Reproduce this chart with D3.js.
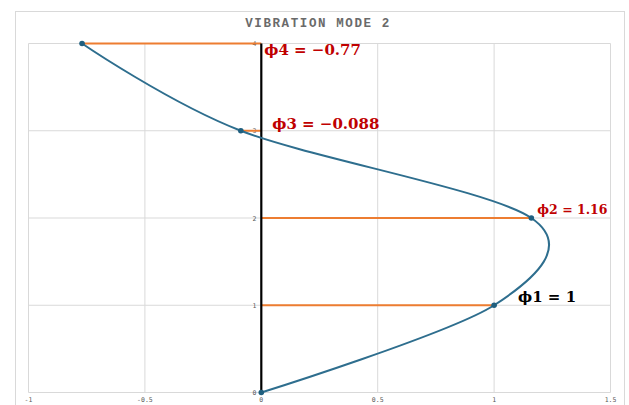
<!DOCTYPE html>
<html><head><meta charset="utf-8">
<script src="https://cdn.jsdelivr.net/npm/d3@7"></script>
<style>body{margin:0;background:#fff}</style>
</head><body>
<script>
const modeShape = [0, 1, 1.16, -0.088, -0.77];
const levels = [0, 1, 2, 3, 4];
const xTicks = [-1, -0.5, 0, 0.5, 1, 1.5];
const xTickLabels = ["-1", "-0.5", "0", "0.5", "1", "1.5"];
const yTicks = [0, 1, 2, 3, 4];
const labels = [
  {lvl: 4, text: "ϕ4 = −0.77", color: "#c00000", size: 15, dx: 3, dy: 11},
  {lvl: 3, text: "ϕ3 = −0.088", color: "#c00000", size: 15, dx: 11, dy: -2},
  {lvl: 2, text: "ϕ2 = 1.16", color: "#c00000", size: 12.5, dx: 6, dy: -4},
  {lvl: 1, text: "ϕ1 = 1", color: "#000000", size: 15, dx: 24, dy: -3}
];
const title = "VIBRATION MODE 2";

const W = 629, H = 405;
const svg = d3.select("body").append("svg").attr("width", W).attr("height", H);
svg.append("rect").attr("x", 15.5).attr("y", 11.5).attr("width", 609).attr("height", 400)
  .attr("fill", "#fff").attr("stroke", "#d9d9d9");

const x = d3.scaleLinear().domain([-1, 1.5]).range([28.5, 610.5]);
const y = d3.scaleLinear().domain([0, 4]).range([392.5, 43.5]);

svg.append("g").selectAll("line").data(xTicks).join("line")
  .attr("x1", d => x(d)).attr("x2", d => x(d)).attr("y1", y(0)).attr("y2", y(4))
  .attr("stroke", "#d9d9d9");
svg.append("g").selectAll("line").data(yTicks).join("line")
  .attr("x1", x(-1)).attr("x2", x(1.5)).attr("y1", d => y(d)).attr("y2", d => y(d))
  .attr("stroke", "#d9d9d9");

svg.append("text").attr("x", 318).attr("y", 27).attr("text-anchor", "middle")
  .attr("font-family", "Liberation Mono, monospace").attr("font-size", 12.5)
  .attr("font-weight", "bold").attr("letter-spacing", 1.6).attr("fill", "#6a6a6a").text(title);

svg.append("g").selectAll("text").data(xTicks).join("text")
  .attr("x", d => x(d)).attr("y", 402).attr("text-anchor", "middle")
  .attr("font-family", "DejaVu Sans Mono, monospace").attr("font-size", 6.5).attr("fill", "#595959")
  .text((d, i) => xTickLabels[i]);
svg.append("g").selectAll("text").data(yTicks).join("text")
  .attr("x", x(0) - 5).attr("y", d => y(d) + 2.5).attr("text-anchor", "end")
  .attr("font-family", "DejaVu Sans Mono, monospace").attr("font-size", 6.5).attr("fill", "#595959")
  .text(d => d);

svg.append("g").selectAll("line").data(levels.slice(1)).join("line")
  .attr("x1", d => x(0)).attr("x2", d => x(modeShape[d])).attr("y1", d => y(d)).attr("y2", d => y(d))
  .attr("stroke", "#ed7d31").attr("stroke-width", 2);

svg.append("line").attr("x1", x(0)).attr("x2", x(0)).attr("y1", y(0)).attr("y2", y(4))
  .attr("stroke", "#000").attr("stroke-width", 2.2);

const pts = levels.map(l => [modeShape[l], l]);
const line = d3.line().x(d => x(d[0])).y(d => y(d[1])).curve(d3.curveCardinal.tension(0.05));
svg.append("path").datum(pts).attr("d", line).attr("fill", "none")
  .attr("stroke", "#2e6e8e").attr("stroke-width", 2);
svg.append("g").selectAll("circle").data(pts).join("circle")
  .attr("cx", d => x(d[0])).attr("cy", d => y(d[1])).attr("r", 2.8).attr("fill", "#1f5f7f");

svg.append("g").selectAll("text").data(labels).join("text")
  .attr("x", d => x(Math.max(0, modeShape[d.lvl])) + d.dx)
  .attr("y", d => y(d.lvl) + d.dy)
  .attr("font-family", "DejaVu Serif, serif").attr("font-weight", "bold")
  .attr("font-size", d => d.size).attr("fill", d => d.color).text(d => d.text);
</script>
</body></html>
